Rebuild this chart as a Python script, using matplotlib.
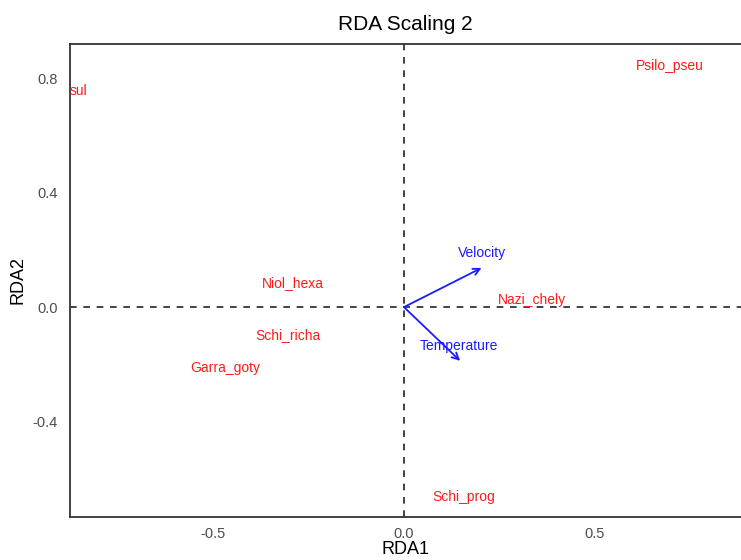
import matplotlib
matplotlib.use("Agg")
import matplotlib.pyplot as plt

plt.rcParams["font.family"] = ["Liberation Sans", "DejaVu Sans"]

# Species scores (label positions)
species = ["sul", "Psilo_pseu", "Niol_hexa", "Schi_richa", "Garra_goty", "Nazi_chely", "Schi_prog"]
sp_x = [-0.874, 0.696, -0.291, -0.304, -0.469, 0.335, 0.157]
sp_y = [0.755, 0.843, 0.084, -0.098, -0.213, 0.024, -0.664]

# Environmental vectors
env = ["Velocity", "Temperature"]
env_x = [0.203, 0.147]
env_y = [0.137, -0.188]
env_lab_x = [0.204, 0.144]
env_lab_y = [0.189, -0.136]

xticks = [-0.5, 0.0, 0.5]
yticks = [-0.4, 0.0, 0.4, 0.8]

fig = plt.figure(figsize=(7.41, 5.60), dpi=100)
ax = fig.add_axes([70/741, 43/560, 1 - 70/741, (517-44)/560])
ax.set_xlim(-0.874, 0.882)
ax.set_ylim(-0.734, 0.920)

ax.axhline(0, color="#222222", linestyle=(0, (4, 4)), linewidth=1.2, zorder=1)
ax.axvline(0, color="#222222", linestyle=(0, (4, 4)), linewidth=1.2, zorder=1)

for name, x, y in zip(species, sp_x, sp_y):
    if name == "sul":
        ax.text(x, y, name, color="#ff1a1a", fontsize=10, ha="left", va="center")
    else:
        ax.text(x, y, name, color="#ff1a1a", fontsize=10, ha="center", va="center")

for name, x, y, lx, ly in zip(env, env_x, env_y, env_lab_x, env_lab_y):
    ax.annotate("", xy=(x, y), xytext=(0, 0),
                arrowprops=dict(arrowstyle="->", color="#1a1aff", lw=1.3,
                                mutation_scale=12, shrinkA=0, shrinkB=0))
    ax.text(lx, ly, name, color="#1a1aff", fontsize=10, ha="center", va="center")

ax.set_xticks(xticks)
ax.set_xticklabels(["-0.5", "0.0", "0.5"])
ax.set_yticks(yticks)
ax.set_yticklabels(["-0.4", "0.0", "0.4", "0.8"])
ax.tick_params(axis="x", length=0, pad=7, labelsize=10.5, labelcolor="#4d4d4d")
ax.tick_params(axis="y", length=0, pad=9, labelsize=10.5, labelcolor="#4d4d4d")

for s in ["left", "bottom", "top"]:
    ax.spines[s].set_color("#333333")
    ax.spines[s].set_linewidth(1.3)
ax.spines["right"].set_visible(False)

ax.set_xlabel("RDA1", fontsize=13, labelpad=0)
ax.set_ylabel("RDA2", fontsize=13, labelpad=4)
ax.set_title("RDA Scaling 2", fontsize=15, pad=10)

fig.savefig("out.png", dpi=100)
